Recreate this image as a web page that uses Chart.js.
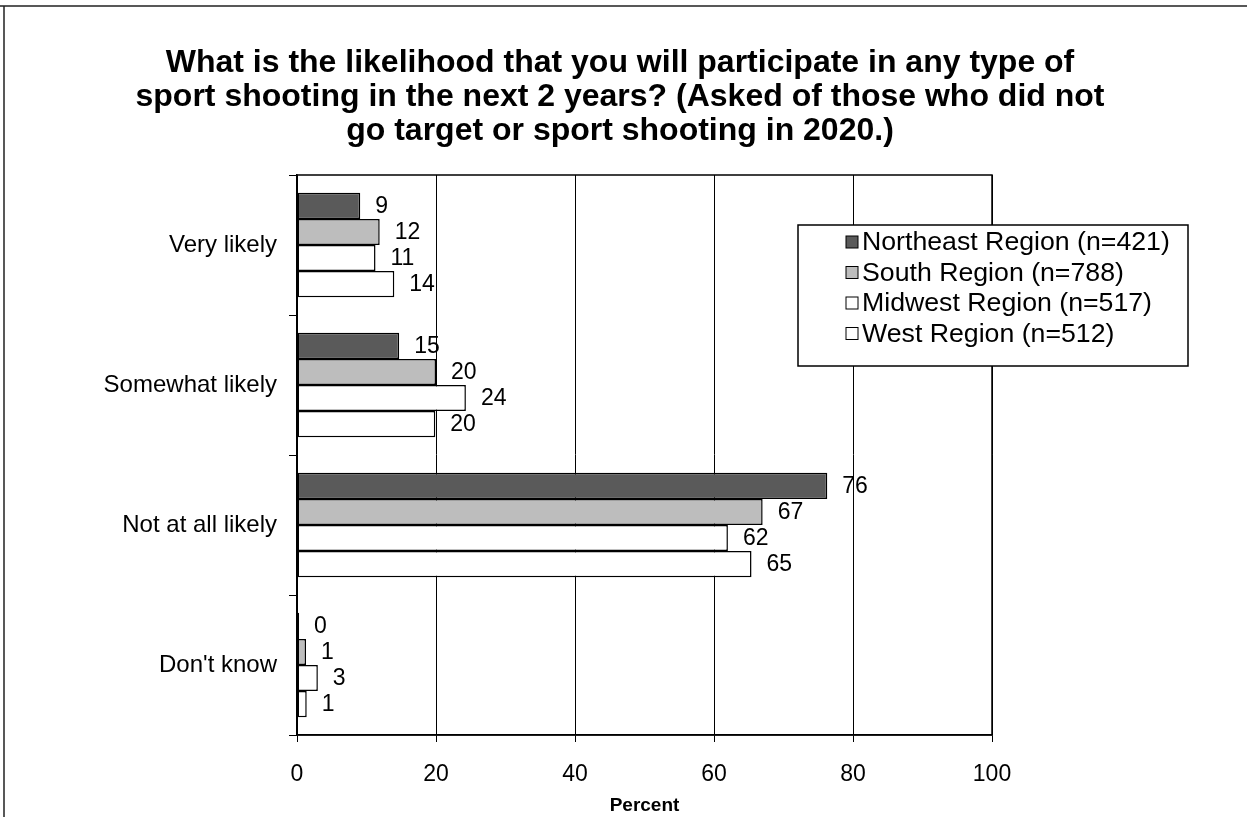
<!DOCTYPE html>
<html>
<head>
<meta charset="utf-8">
<script src="https://cdn.jsdelivr.net/npm/chart.js@4.4.1/dist/chart.umd.min.js"></script>
<style>
  body { margin: 0; background: #fff; }
  canvas { display: block; }
</style>
</head>
<body>
<canvas id="myChart" width="1247" height="817"></canvas>
<script>
const categories = ["Very likely", "Somewhat likely", "Not at all likely", "Don't know"];

const northeast = [9.1, 14.7, 76.3, 0.3];
const south = [11.9, 20.0, 67.0, 1.3];
const midwest = [11.3, 24.3, 62.0, 3.0];
const west = [14.0, 19.9, 65.4, 1.4];

const seriesNames = [
  "Northeast Region (n=421)",
  "South Region (n=788)",
  "Midwest Region (n=517)",
  "West Region (n=512)"
];

const titleLines = [
  "What is the likelihood that you will participate in any type of",
  "sport shooting in the next 2 years? (Asked of those who did not",
  "go target or sport shooting in 2020.)"
];

const FONT = "'Liberation Sans', Arial, sans-serif";
const fills = ["#5a5a5a", "#bdbdbd", "#ffffff", "#ffffff"];

// white page, frame lines and the centred title
const pageFrame = {
  id: "pageFrame",
  beforeDraw(chart) {
    const ctx = chart.ctx;
    ctx.save();
    ctx.fillStyle = "#fff";
    ctx.fillRect(0, 0, chart.width, chart.height);
    ctx.strokeStyle = "#222";
    ctx.lineWidth = 1.5;
    ctx.beginPath();
    ctx.moveTo(0, 6);
    ctx.lineTo(chart.width, 6);
    ctx.moveTo(4, 6);
    ctx.lineTo(4, chart.height);
    ctx.stroke();

    ctx.fillStyle = "#000";
    ctx.font = "bold 32px " + FONT;
    ctx.textAlign = "center";
    ctx.textBaseline = "middle";
    titleLines.forEach((line, i) => {
      ctx.fillText(line, 620, 63 + i * 34);
    });
    ctx.restore();
  }
};

const barLabels = {
  id: "barLabels",
  afterDatasetsDraw(chart) {
    const ctx = chart.ctx;
    const a = chart.chartArea;
    ctx.save();
    ctx.strokeStyle = "#000";
    ctx.lineWidth = 1.5;
    ctx.strokeRect(a.left, a.top, a.right - a.left, a.bottom - a.top);
    ctx.fillStyle = "#000";
    ctx.font = "23px " + FONT;
    ctx.textAlign = "left";
    ctx.textBaseline = "middle";
    chart.data.datasets.forEach((ds, i) => {
      chart.getDatasetMeta(i).data.forEach((bar, j) => {
        ctx.fillText(String(Math.round(ds.data[j])), bar.x + 15, bar.y + 1);
      });
    });
    ctx.restore();
  }
};

const boxLegend = {
  id: "boxLegend",
  afterDraw(chart) {
    const ctx = chart.ctx;
    const x = 798, y = 225, w = 390, h = 141;
    ctx.save();
    ctx.fillStyle = "#fff";
    ctx.fillRect(x, y, w, h);
    ctx.strokeStyle = "#000";
    ctx.lineWidth = 1.5;
    ctx.strokeRect(x, y, w, h);
    ctx.font = "26.7px " + FONT;
    ctx.textBaseline = "middle";
    seriesNames.forEach((name, i) => {
      const cy = y + 17 + i * 30.5;
      ctx.fillStyle = fills[i];
      ctx.fillRect(846, cy - 6, 12, 12);
      ctx.lineWidth = 1;
      ctx.strokeRect(846, cy - 6, 12, 12);
      ctx.fillStyle = "#000";
      ctx.fillText(name, 862, cy + 1);
    });
    ctx.restore();
  }
};

const ctx = document.getElementById("myChart").getContext("2d");

const data = {
  labels: categories,
  datasets: [northeast, south, midwest, west].map((vals, i) => ({
    label: seriesNames[i],
    data: vals,
    backgroundColor: fills[i],
    borderColor: "#000",
    borderWidth: 1.5,
    borderSkipped: false,
    categoryPercentage: 0.745,
    barPercentage: 1.0
  }))
};

const config = {
  type: "bar",
  data: data,
  plugins: [pageFrame, barLabels, boxLegend],
  options: {
    indexAxis: "y",
    responsive: false,
    animation: false,
    layout: { padding: { top: 175, left: 8, right: 255, bottom: 0 } },
    plugins: {
      legend: { display: false },
      tooltip: { enabled: false },
      title: { display: false }
    },
    scales: {
      x: {
        min: 0,
        max: 100,
        afterFit(scale) { scale.height = 82; },
        ticks: {
          stepSize: 20,
          color: "#000",
          padding: 19,
          font: { family: FONT, size: 23 }
        },
        grid: { color: "#000", lineWidth: 1, tickLength: 7 },
        border: { color: "#000", width: 1.5 },
        title: {
          display: true,
          text: "Percent",
          color: "#000",
          font: { family: FONT, size: 19, weight: "bold" },
          padding: { top: 0, bottom: 0 }
        }
      },
      y: {
        afterFit(scale) { scale.width = 289; },
        ticks: {
          color: "#000",
          padding: 12,
          font: { family: FONT, size: 24 }
        },
        grid: { drawOnChartArea: false, color: "#000", tickLength: 8 },
        border: { color: "#000", width: 1.5 }
      }
    }
  }
};

const myChart = new Chart(ctx, config);
</script>
</body>
</html>
